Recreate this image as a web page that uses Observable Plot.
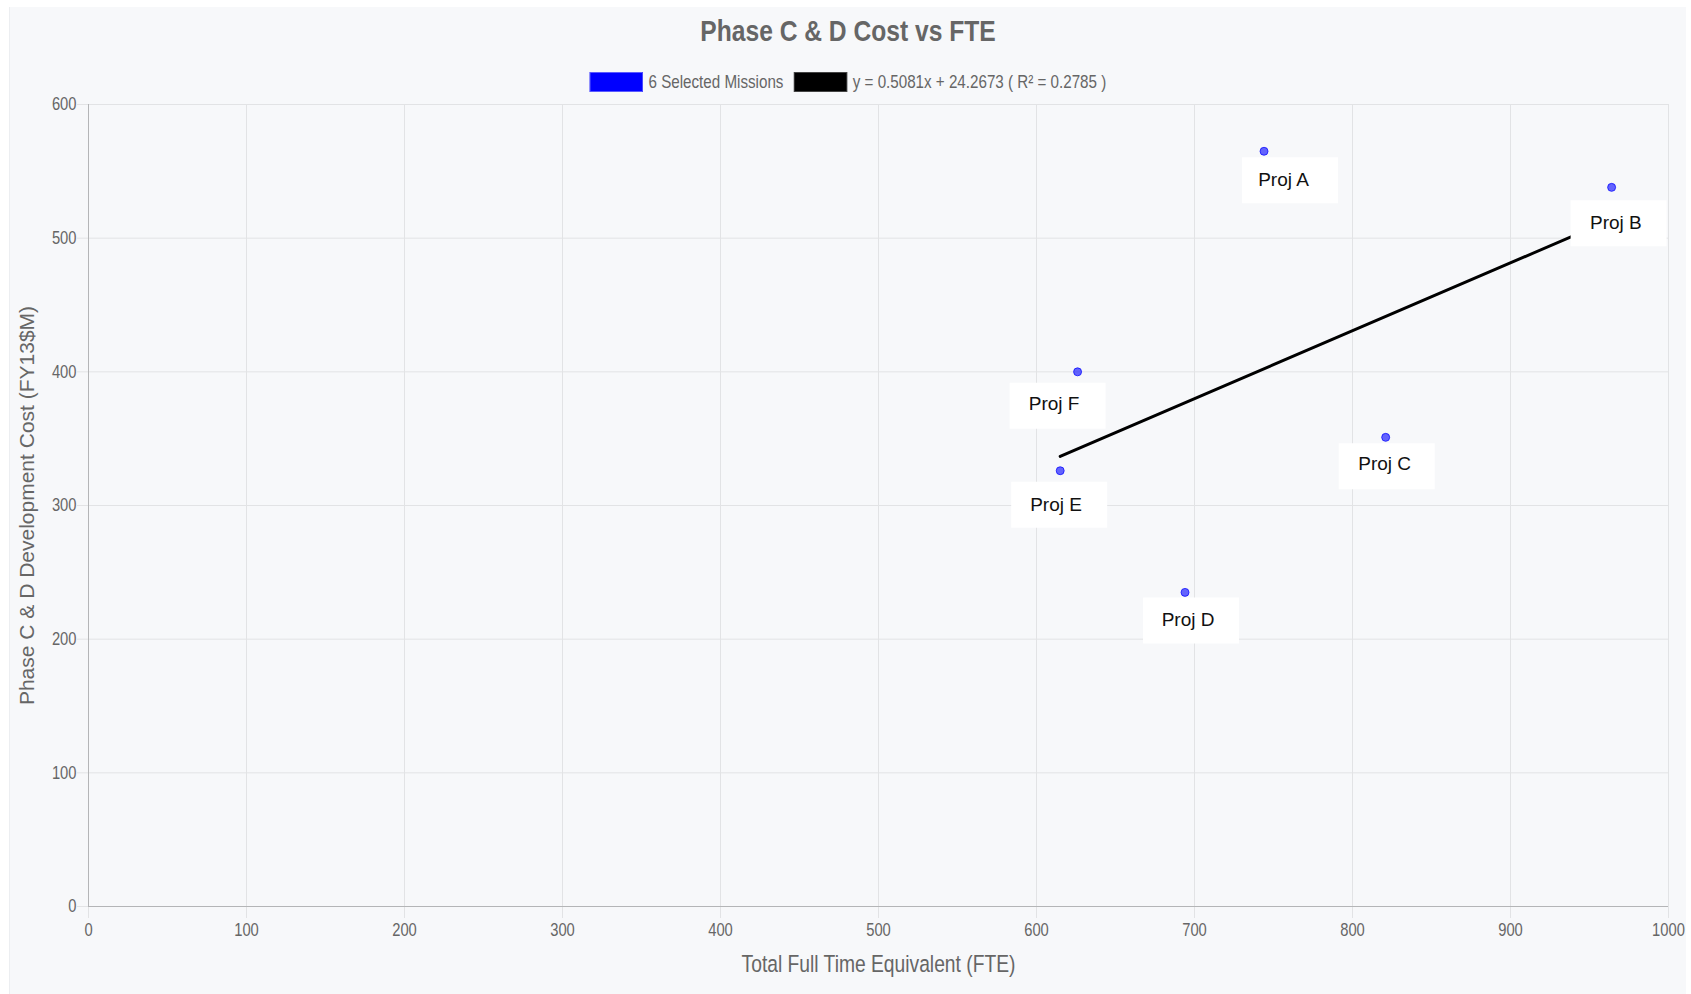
<!DOCTYPE html>
<html><head><meta charset="utf-8">
<script src="https://cdn.jsdelivr.net/npm/d3@7"></script>
<script src="https://cdn.jsdelivr.net/npm/@observablehq/plot@0.6"></script>
<style>
html,body{margin:0;padding:0;background:#fff;width:1691px;height:994px;overflow:hidden;}
#card{position:absolute;left:9px;top:7px;width:1677px;height:987px;background:#f7f8fa;border-left:1px solid #eceef1;box-sizing:border-box;}
#title{position:absolute;left:0;top:15.5px;width:1696px;text-align:center;font:bold 30px/1 "Liberation Sans",Arial,sans-serif;color:#666;white-space:nowrap;transform:scaleX(0.82);transform-origin:848px 0;}
#legend{position:absolute;left:0;top:72px;width:1696px;height:20px;display:flex;justify-content:center;align-items:center;font:18.5px/1 "Liberation Sans",Arial,sans-serif;color:#666;white-space:nowrap;transform:scaleX(0.82);transform-origin:848px 10px;}
.sw{width:65px;height:20px;box-sizing:border-box;margin-right:6.6px;flex:none;}
#chart{position:absolute;left:10px;top:95px;}
</style>
</head>
<body>
<div id="card"></div>
<div id="title"></div>
<div id="legend"></div>
<div id="chart"></div>
<script>
// ---- data ----
const projects = ["Proj A", "Proj B", "Proj C", "Proj D", "Proj E", "Proj F"];
const fte = [744, 964, 821, 694, 615, 626];
const cost = [565, 538, 351, 235, 326, 400];
const xTicks = [0, 100, 200, 300, 400, 500, 600, 700, 800, 900, 1000];
const yTicks = [0, 100, 200, 300, 400, 500, 600];
const slope = 0.5081;
const intercept = 24.2673;
const r2 = 0.2785;
const titleText = "Phase C & D Cost vs FTE";
const seriesName = "6 Selected Missions";
const xLabel = "Total Full Time Equivalent (FTE)";
const yLabel = "Phase C & D Development Cost (FY13$M)";

// ---- label placement config (pixel offsets of label box / label text from their points) ----
const boxNudge = {
  "Proj A": [26, 29], "Proj B": [7, 36], "Proj C": [1, 29],
  "Proj D": [6, 28], "Proj E": [-1, 34], "Proj F": [-20, 34]
};
const textNudge = {
  "Proj A": [19.5, 28.4], "Proj B": [4.3, 35.3], "Proj C": [-1, 27],
  "Proj D": [3, 27.7], "Proj E": [-4.2, 34], "Proj F": [-23.5, 32.5]
};

const data = projects.map((name, i) => ({name, fte: fte[i], cost: cost[i]}));
const xmin = d3.min(fte), xmax = d3.max(fte);
const trend = [xmin, xmax].map(x => ({x, y: slope * x + intercept}));

document.getElementById("title").textContent = titleText;
const legend = document.getElementById("legend");
legend.innerHTML =
  `<div class="sw" style="background:#0000ff;border:1px solid #5a5aff"></div><span style="margin-right:13px">${seriesName}</span>` +
  `<div class="sw" style="background:#000;border:1px solid #444"></div><span>y = ${slope}x + ${intercept} ( R² = ${r2} )</span>`;

const boxSymbol = {draw(ctx) { ctx.moveTo(-48, -23); ctx.lineTo(48, -23); ctx.lineTo(48, 23); ctx.lineTo(-48, 23); ctx.closePath(); }};
const gridColor = "#e2e3e5";
const axisColor = "#b4b5b7";
const textColor = "#666";
const regular = "'Liberation Sans', Arial, sans-serif";

const plot = Plot.plot({
  width: 1676, height: 899,
  marginLeft: 78, marginRight: 18, marginTop: 9, marginBottom: 88,
  style: {background: "transparent", fontFamily: regular, overflow: "visible"},
  x: {domain: [0, 1000]},
  y: {domain: [0, 600]},
  marks: [
    Plot.gridX(xTicks, {stroke: gridColor, strokeOpacity: 1}),
    Plot.gridY(yTicks, {stroke: gridColor, strokeOpacity: 1}),
    Plot.axisX(xTicks, {tickSize: 12, tickPadding: 5, stroke: gridColor, fill: textColor, fontSize: 18, tickFormat: d => String(d), label: null}),
    Plot.axisY(yTicks, {tickSize: 11, tickPadding: 1, stroke: gridColor, fill: textColor, fontSize: 18, tickFormat: d => String(d), label: null}),
    Plot.ruleX([0], {stroke: axisColor}),
    Plot.ruleY([0], {stroke: axisColor}),
    Plot.text([xLabel], {frameAnchor: "bottom", lineAnchor: "top", textAnchor: "middle", dy: 49, fontSize: 23.5, fill: textColor}),
    Plot.text([yLabel], {frameAnchor: "left", rotate: -90, textAnchor: "middle", lineAnchor: "middle", dx: -61, fontSize: 21, fill: textColor}),
    Plot.line(trend, {x: "x", y: "y", stroke: "#000", strokeWidth: 3}),
    Plot.dot(data, {x: "fte", y: "cost", r: 4, fill: "rgba(0,0,255,0.6)", stroke: "rgba(0,0,255,0.7)", strokeWidth: 1}),
    ...data.map(d => Plot.dot([d], {x: "fte", y: "cost", symbol: boxSymbol, fill: "#fff", stroke: "none", dx: boxNudge[d.name][0], dy: boxNudge[d.name][1]})),
    ...data.map(d => Plot.text([d], {x: "fte", y: "cost", text: "name", fontSize: 19, fill: "#111", dx: textNudge[d.name][0], dy: textNudge[d.name][1]}))
  ]
});
document.getElementById("chart").appendChild(plot);

// condense the axis texts horizontally (the reference uses a narrow face)
function condense(node) {
  const t = d3.select(node);
  const tr = t.attr("transform");
  if (tr) t.attr("transform", tr + " scale(0.82,1)");
  else {
    const x = +t.attr("x") || 0, y = +t.attr("y") || 0;
    t.attr("transform", `translate(${x},${y}) scale(0.82,1) translate(${-x},${-y})`);
  }
}
d3.select(plot)
  .selectAll('g[aria-label="x-axis tick label"] text, g[aria-label="y-axis tick label"] text')
  .each(function() { condense(this); });
d3.select(plot).selectAll("text")
  .filter(function() { return this.textContent === xLabel; })
  .each(function() { condense(this); });
</script>
</body></html>
